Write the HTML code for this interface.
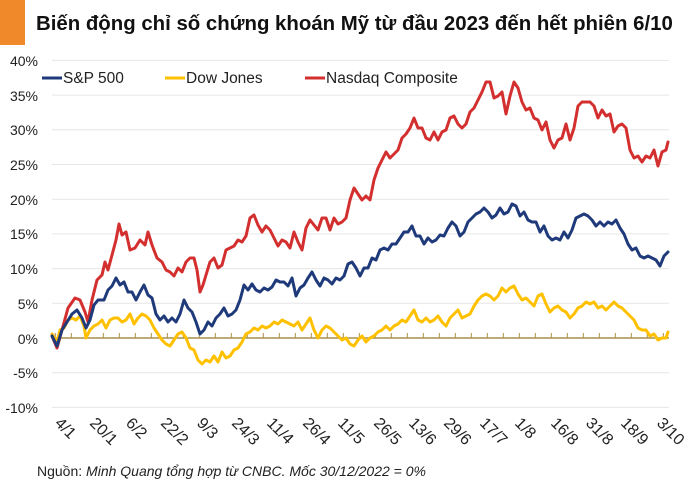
<!DOCTYPE html>
<html><head><meta charset="utf-8"><style>
body{margin:0;background:#fff;width:700px;height:490px;overflow:hidden}
svg{display:block;font-family:"Liberation Sans",sans-serif}
</style></head><body>
<svg width="700" height="490" viewBox="0 0 700 490">
<rect x="0" y="0" width="25" height="45" fill="#F0892A"/>
<text x="36" y="30" font-size="20.4" font-weight="bold" fill="#111">Biến động chỉ số chứng khoán Mỹ từ đầu 2023 đến hết phiên 6/10</text>
<g stroke="#e6e6e6" stroke-width="1">
<line x1="52" x2="669" y1="60.4" y2="60.4"/><line x1="52" x2="669" y1="95.1" y2="95.1"/>
<line x1="52" x2="669" y1="129.8" y2="129.8"/><line x1="52" x2="669" y1="164.5" y2="164.5"/>
<line x1="52" x2="669" y1="199.2" y2="199.2"/><line x1="52" x2="669" y1="233.9" y2="233.9"/>
<line x1="52" x2="669" y1="268.6" y2="268.6"/><line x1="52" x2="669" y1="303.3" y2="303.3"/>
<line x1="52" x2="669" y1="372.7" y2="372.7"/><line x1="52" x2="669" y1="407.4" y2="407.4"/>
</g>
<g font-size="14" fill="#222" text-anchor="end">
<text x="38" y="66">40%</text><text x="38" y="101">35%</text><text x="38" y="135">30%</text>
<text x="38" y="170">25%</text><text x="38" y="205">20%</text><text x="38" y="239">15%</text>
<text x="38" y="274">10%</text><text x="38" y="309">5%</text><text x="38" y="344">0%</text>
<text x="38" y="378">-5%</text><text x="38" y="413">-10%</text>
</g>
<line x1="52" x2="669" y1="338" y2="338" stroke="#A89048" stroke-width="1.5"/>
<g stroke="#A89048" stroke-width="1">
<line x1="55.3" x2="55.3" y1="333" y2="338"/><line x1="71.3" x2="71.3" y1="333" y2="338"/><line x1="87.3" x2="87.3" y1="333" y2="338"/><line x1="103.3" x2="103.3" y1="333" y2="338"/><line x1="119.3" x2="119.3" y1="333" y2="338"/><line x1="135.3" x2="135.3" y1="333" y2="338"/><line x1="151.3" x2="151.3" y1="333" y2="338"/><line x1="167.3" x2="167.3" y1="333" y2="338"/><line x1="183.3" x2="183.3" y1="333" y2="338"/><line x1="199.3" x2="199.3" y1="333" y2="338"/><line x1="215.3" x2="215.3" y1="333" y2="338"/><line x1="231.3" x2="231.3" y1="333" y2="338"/><line x1="247.3" x2="247.3" y1="333" y2="338"/><line x1="263.3" x2="263.3" y1="333" y2="338"/><line x1="279.3" x2="279.3" y1="333" y2="338"/><line x1="295.3" x2="295.3" y1="333" y2="338"/><line x1="311.3" x2="311.3" y1="333" y2="338"/><line x1="327.3" x2="327.3" y1="333" y2="338"/><line x1="343.3" x2="343.3" y1="333" y2="338"/><line x1="359.3" x2="359.3" y1="333" y2="338"/><line x1="375.3" x2="375.3" y1="333" y2="338"/><line x1="391.3" x2="391.3" y1="333" y2="338"/><line x1="407.3" x2="407.3" y1="333" y2="338"/><line x1="423.3" x2="423.3" y1="333" y2="338"/><line x1="439.3" x2="439.3" y1="333" y2="338"/><line x1="455.3" x2="455.3" y1="333" y2="338"/><line x1="471.3" x2="471.3" y1="333" y2="338"/><line x1="487.3" x2="487.3" y1="333" y2="338"/><line x1="503.3" x2="503.3" y1="333" y2="338"/><line x1="519.3" x2="519.3" y1="333" y2="338"/><line x1="535.3" x2="535.3" y1="333" y2="338"/><line x1="551.3" x2="551.3" y1="333" y2="338"/><line x1="567.3" x2="567.3" y1="333" y2="338"/><line x1="583.3" x2="583.3" y1="333" y2="338"/><line x1="599.3" x2="599.3" y1="333" y2="338"/><line x1="615.3" x2="615.3" y1="333" y2="338"/><line x1="631.3" x2="631.3" y1="333" y2="338"/><line x1="647.3" x2="647.3" y1="333" y2="338"/><line x1="663.3" x2="663.3" y1="333" y2="338"/>
</g>
<g fill="none" stroke-width="3" stroke-linejoin="round" stroke-linecap="round">
<polyline stroke="#FFC000" points="52,334 57,342 60,330 64,328 68,320 72,318 76,320 80,316 84,326 86,338 90,330 94,326 98,324 102,320 106,328 110,320 114,318 118,318 122,322 126,320 130,314 134,324 138,318 142,314 146,316 150,320 154,328 158,334 162,340 166,344 170,346 174,340 178,334 182,332 186,338 190,348 194,350 198,360 202,364 206,360 210,362 214,356 218,362 222,352 226,358 230,356 234,350 238,348 242,342 246,334 250,332 254,328 258,330 262,326 266,328 270,326 274,322 278,324 282,320 286,322 290,324 294,326 298,322 302,330 306,324 310,318 314,330 318,338 322,330 326,326 330,328 334,332 338,336 342,340 346,338 350,344 354,346 358,340 362,336 366,342 370,338 374,336 378,332 382,330 386,326 390,330 394,326 398,324 402,320 406,322 410,316 414,310 418,320 422,322 426,318 430,322 434,320 438,316 442,322 446,326 450,318 454,314 458,310 462,318 466,316 470,314 474,306 478,300 482,296 486,294 490,296 494,300 498,296 502,288 506,292 510,288 514,286 518,294 522,300 526,298 530,302 534,306 538,296 542,294 546,304 550,312 554,308 558,306 562,310 566,312 570,318 574,314 578,308 582,306 586,302 590,304 594,302 598,308 602,306 606,310 610,306 614,302 618,306 622,308 626,312 630,316 634,320 638,328 642,330 646,330 650,336 654,334 658,340 662,338 666,338 668,332"/>
<polyline stroke="#D32F2F" points="52,336 57,348 62,330 68,308 75,298 80,300 85,312 88,322 92,300 97,280 102,275 105,262 108,270 112,255 116,240 119,224 122,235 126,232 130,250 135,248 140,240 145,245 148,232 152,245 157,258 162,262 166,270 170,272 174,276 178,268 182,272 186,262 190,258 194,258 197,270 200,292 203,285 206,275 210,262 214,258 218,268 222,265 226,250 230,248 234,246 238,240 242,242 246,236 250,218 254,215 258,225 262,232 266,226 270,230 274,238 278,246 282,240 286,242 290,248 294,232 298,242 302,250 306,228 310,220 314,225 318,230 322,218 326,218 330,230 334,218 338,224 342,222 346,218 350,200 354,188 358,194 362,200 366,196 370,200 374,180 378,168 382,160 386,152 390,158 394,154 398,150 402,138 406,134 410,128 414,118 418,128 422,128 426,138 430,140 434,132 438,140 442,132 446,130 450,118 454,116 458,124 462,128 466,124 470,112 474,108 478,100 482,92 486,82 490,82 494,98 498,96 502,92 506,114 510,96 514,82 518,88 522,102 526,110 530,108 534,118 538,120 542,130 546,122 550,140 554,148 558,140 562,138 566,124 570,140 574,128 578,106 582,102 586,102 590,102 594,106 598,118 602,110 606,116 610,114 614,132 618,126 622,124 626,128 630,150 634,158 638,156 642,162 646,156 650,158 654,150 658,166 662,152 666,150 668,142"/>
<polyline stroke="#1F3A7A" points="52,336 57,346 62,330 67,322 72,314 77,310 82,318 86,328 90,320 94,305 98,300 104,300 108,290 112,286 116,278 120,285 124,282 128,292 132,292 136,300 140,292 144,285 148,295 152,298 156,314 160,320 164,316 168,322 172,318 176,322 180,314 184,300 188,308 192,312 196,322 200,334 204,330 208,322 212,326 216,318 220,314 224,308 228,316 232,314 236,310 240,300 244,285 248,290 252,284 256,290 260,292 264,288 268,290 272,287 276,280 280,282 284,282 288,286 292,278 296,296 300,288 304,285 308,278 312,272 316,280 320,286 324,278 328,280 332,284 336,278 340,280 344,276 348,264 352,262 356,268 360,276 364,268 368,268 372,258 376,260 380,250 384,248 388,250 392,244 396,244 400,238 404,232 408,232 412,226 416,236 420,236 424,244 428,238 432,242 436,240 440,235 444,236 448,228 452,222 456,226 460,236 464,232 468,222 472,218 476,214 480,212 484,208 488,212 492,218 496,215 500,208 504,214 508,212 512,204 516,206 520,216 524,212 528,220 532,222 536,222 540,232 544,226 548,236 552,240 556,238 560,240 564,232 568,238 572,230 576,218 580,216 584,214 588,216 592,220 596,226 600,222 604,226 608,222 612,224 616,220 620,228 624,234 628,244 632,250 636,248 640,256 644,258 648,256 652,258 656,260 660,266 664,256 668,252"/>
</g>
<g font-size="15.5" fill="#222">
<line x1="42" x2="62" y1="78" y2="78" stroke="#1F3A7A" stroke-width="3"/><text x="63" y="83">S&amp;P 500</text>
<line x1="165" x2="185" y1="78" y2="78" stroke="#FFC000" stroke-width="3"/><text x="186" y="83">Dow Jones</text>
<line x1="305" x2="325" y1="78" y2="78" stroke="#D32F2F" stroke-width="3"/><text x="326" y="83">Nasdaq Composite</text>
</g>
<g font-size="16" fill="#222">
<text transform="translate(54,424) rotate(45)">4/1</text>
<text transform="translate(89,424) rotate(45)">20/1</text>
<text transform="translate(125,424) rotate(45)">6/2</text>
<text transform="translate(160,424) rotate(45)">22/2</text>
<text transform="translate(196,424) rotate(45)">9/3</text>
<text transform="translate(231,424) rotate(45)">24/3</text>
<text transform="translate(266,424) rotate(45)">11/4</text>
<text transform="translate(302,424) rotate(45)">26/4</text>
<text transform="translate(337,424) rotate(45)">11/5</text>
<text transform="translate(373,424) rotate(45)">26/5</text>
<text transform="translate(408,424) rotate(45)">13/6</text>
<text transform="translate(443,424) rotate(45)">29/6</text>
<text transform="translate(479,424) rotate(45)">17/7</text>
<text transform="translate(514,424) rotate(45)">1/8</text>
<text transform="translate(550,424) rotate(45)">16/8</text>
<text transform="translate(585,424) rotate(45)">31/8</text>
<text transform="translate(620,424) rotate(45)">18/9</text>
<text transform="translate(656,424) rotate(45)">3/10</text>
</g>
<text x="37" y="476" font-size="14" fill="#222">Nguồn: <tspan font-style="italic">Minh Quang tổng hợp từ CNBC. Mốc 30/12/2022 = 0%</tspan></text>
</svg>
</body></html>
